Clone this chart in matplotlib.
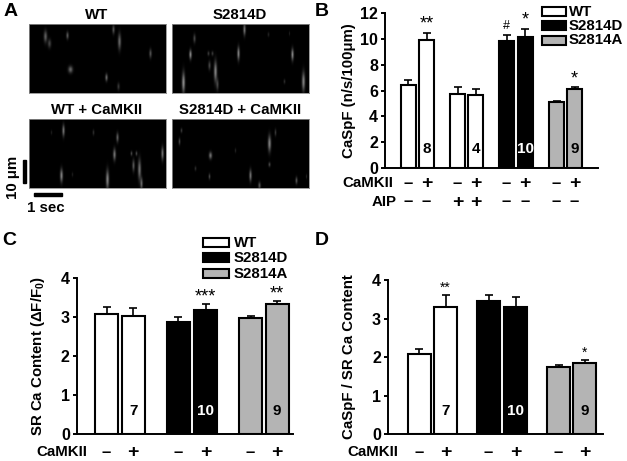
import numpy as np
import matplotlib
matplotlib.use('Agg')
import matplotlib.pyplot as plt
from matplotlib.patches import Rectangle

plt.rcParams['font.family'] = 'Liberation Sans'
plt.rcParams['font.weight'] = 'bold'
plt.rcParams['mathtext.fontset'] = 'custom'
plt.rcParams['mathtext.rm'] = 'Liberation Sans:bold'
plt.rcParams['mathtext.default'] = 'regular'

W, H = 627, 461
WHITE, BLACK, GREY = '#ffffff', '#000000', '#b4b4b4'

# ============================================================
# DATA
# ============================================================
# sparks: x, y, width, height, brightness (image pixels)
sparks_wt = [(16, 12, 1.2, 4, .35), (20, 19, 1.2, 3, .25), (38, 11, .9, 2.5, .32), (84, 5, .9, 3, .3),
             (90, 17, 1.1, 5.5, .38), (121, 29, .9, 3, .3), (41, 45, 1.6, 2.4, .38), (77, 53, .9, 2.5, .38),
             (89, 62, .9, 2.5, .2)]
sparks_d = [(72, 5, .9, 4, .42), (22, 14, .9, 3, .25), (18, 30, .9, 3.2, .5), (36, 29, .8, 1.6, .2),
            (40, 29, .8, 1.6, .2), (66, 29, .9, 4.5, .48), (120, 30, .9, 4, .5), (37, 41, .9, 3, .25),
            (43, 47, 1.1, 7, .48), (45, 60, .9, 4, .25), (11, 58, 1.1, 7, .52), (131, 57, 1.1, 6.5, .48),
            (112, 57, .7, 1.6, .16), (96, 10, .7, 1.6, .12), (117, 9, .5, 1.6, .1)]
sparks_wt_cam = [(34, 11, .9, 4, .42), (64, 13, .7, 2, .16), (88, 18, .9, 3.2, .34), (85, 35, 1, 4, .42),
                 (102, 34, .7, 1.6, .25), (107, 34, .7, 1.6, .25), (133, 34, .9, 4.5, .42), (104, 46, .9, 4, .32),
                 (110, 50, 1.1, 7, .42), (112, 64, .9, 4, .38), (32, 56, 1, 4.5, .48), (78, 60, 1.1, 6.5, .48),
                 (22, 13, .6, 1.6, .1), (43, 55, .6, 1.6, .1)]
sparks_d_cam = [(9, 11, .7, 1.6, .2), (7, 22, .7, 2.4, .25), (97, 24, 1.1, 5.5, .48), (103, 13, .7, 2.4, .2),
                (38, 36, 1.1, 2.4, .42), (63, 31, .6, 1.6, .12), (97, 45, .8, 1.6, .25), (23, 49, .7, 1.6, .16),
                (37, 57, .7, 2, .25), (78, 56, .9, 4, .42), (87, 66, .9, 2.4, .32), (124, 61, .8, 2.4, .3),
                (134, 57, .5, 1.6, .12)]

b_vals = [6.45, 9.9, 5.75, 5.7, 9.85, 10.2, 5.1, 6.1]
b_errs = [.35, .6, .55, .45, .5, .6, .12, .17]
b_cols = [WHITE, WHITE, WHITE, WHITE, BLACK, BLACK, GREY, GREY]
b_cam = ['\u2013', '+', '\u2013', '+', '\u2013', '+', '\u2013', '+']
b_aip = ['\u2013', '\u2013', '+', '+', '\u2013', '\u2013', '\u2013', '\u2013']
b_stars = {1: '**', 4: '#', 5: '*', 7: '*'}
b_n = {1: '8', 3: '4', 5: '10', 7: '9'}

c_vals = [3.06, 3.03, 2.87, 3.18, 2.96, 3.33]
c_errs = [.19, .2, .12, .14, .06, .08]
c_stars = {3: '***', 5: '**'}
c_n = {1: '7', 3: '10', 5: '9'}

d_vals = [2.07, 3.30, 3.45, 3.29, 1.73, 1.84]
d_errs = [.13, .3, .15, .27, .06, .07]
d_stars = {1: '**', 5: '*'}
d_n = {1: '7', 3: '10', 5: '9'}

cols6 = [WHITE, WHITE, BLACK, BLACK, GREY, GREY]
cam6 = ['\u2013', '+', '\u2013', '+', '\u2013', '+']
legend_names = ['WT', 'S2814D', 'S2814A']
legend_cols = [WHITE, BLACK, GREY]

fig = plt.figure(figsize=(W / 100, H / 100), dpi=100)


def px_axes(x0, y0, x1, y1):
    return fig.add_axes([x0 / W, 1 - y1 / H, (x1 - x0) / W, (y1 - y0) / H])


def label(x, y, s, size=10.8, **kw):
    kw.setdefault('ha', 'center')
    kw.setdefault('va', 'center')
    fig.text(x / W, 1 - y / H, s, fontsize=size, fontweight='bold', **kw)


def kymo(x0, y0, title, sparks):
    ax = px_axes(x0, y0, x0 + 137, y0 + 69)
    yy, xx = np.mgrid[0:69, 0:137]
    img = np.zeros((69, 137))
    for sx, sy, w, h, amp in sparks:
        img += amp * np.exp(-((xx - sx) / w) ** 2 / 2 - ((yy - sy) / h) ** 2 / 2)
    ax.imshow(img, cmap='gray', vmin=0, vmax=1, aspect='auto', interpolation='bilinear')
    ax.set_xticks([])
    ax.set_yticks([])
    for s in ax.spines.values():
        s.set_color('#8c8c8c')
        s.set_linewidth(0.6)
    label(x0 + 68, y0 - 9, title)


def bars(box, lefts, bw, vals, errs, cols, ymax, yticks, ylabel, ylab_x, stars, star_off, star_size,
         n_lab, n_y, rows):
    x0, y0, x1, y1 = box
    ax = px_axes(x0, y0, x1, y1)
    centers = [l + bw / 2 for l in lefts]
    ax.bar(centers, vals, bw, color=cols, edgecolor='black', linewidth=1.5, zorder=2)
    ax.errorbar(centers, vals, yerr=[[0] * len(errs), errs], fmt='none', ecolor='black',
                elinewidth=1.2, capsize=2.8, capthick=1.2, zorder=1)
    ax.set_xlim(0, x1 - x0)
    ax.set_ylim(0, ymax)
    ax.set_xticks([])
    ax.set_yticks(yticks)
    ax.tick_params(axis='y', length=3, width=1.4, labelsize=11.5, pad=2)
    for s in ['top', 'right']:
        ax.spines[s].set_visible(False)
    for s in ['left', 'bottom']:
        ax.spines[s].set_linewidth(1.4)
    label(ylab_x, (y0 + y1) / 2, ylabel, rotation=90)
    for i, s in stars.items():
        ax.text(centers[i], vals[i] + errs[i] + star_off, s, ha='center', va='center',
                fontsize=star_size if s != '#' else 9, fontweight='normal', clip_on=False)
    for i, s in n_lab.items():
        ax.text(centers[i], n_y, s, ha='center', va='center', fontsize=11, fontweight='bold',
                color='white' if cols[i] == BLACK else 'black', zorder=3)
    for name, name_x, row_y, signs in rows:
        label(name_x, row_y, name, ha='right')
        for c, s in zip(centers, signs):
            label(x0 + c, row_y, s, size=14 if s == '+' else 12)
    return ax


def legend(x0, x1, ys, text_x, box_h):
    for y, name, col in zip(ys, legend_names, legend_cols):
        fig.add_artist(Rectangle((x0 / W, 1 - (y + box_h / 2) / H), (x1 - x0) / W, box_h / H,
                                 transform=fig.transFigure, facecolor=col, edgecolor='black', linewidth=1.5))
        label(text_x, y, name, ha='left')


# ============================================================
# PANEL A
# ============================================================
kymo(29, 24, 'WT', sparks_wt)
kymo(172, 24, 'S2814D', sparks_d)
kymo(29, 119, 'WT + CaMKII', sparks_wt_cam)
kymo(172, 119, 'S2814D + CaMKII', sparks_d_cam)
fig.add_artist(Rectangle((23.2 / W, 1 - 183 / H), 3 / W, 23 / H, transform=fig.transFigure, color='black'))
fig.add_artist(Rectangle((34 / W, 1 - 195.5 / H), 28 / W, 3 / H, transform=fig.transFigure, color='black'))
label(13, 177, '10 \u03bcm', rotation=90)
label(46, 208, '1 sec')

# ============================================================
# PANELS B, C, D
# ============================================================
bars((385, 13.3, 598, 168), [15.7, 34, 65, 83, 114, 132.5, 164, 182], 15, b_vals, b_errs, b_cols,
     12, range(0, 13, 2), 'CaSpF (n/s/100\u03bcm)', 349, b_stars, .65, 13, b_n, 1.45,
     [('CaMKII', 393, 183, b_cam), ('AIP', 397, 202, b_aip)])
legend(542, 566, [11.5, 26, 40.5], 568.5, 9)

bars((76.7, 277.7, 293, 434), [18.3, 45, 90, 117.5, 162.3, 189], 23, c_vals, c_errs, cols6,
     4, range(0, 5), 'SR Ca Content ($\\Delta$F/F$_0$)', 38, c_stars, .18, 13, c_n, .6,
     [('CaMKII', 87, 452, cam6)])
legend(203, 229, [242.5, 257.5, 273.5], 234, 9)

bars((388, 280, 603, 434), [19.7, 46, 89, 116, 159, 185], 23, d_vals, d_errs, cols6,
     4, range(0, 5), 'CaSpF / SR Ca Content', 349, d_stars, .2, 10, d_n, .6,
     [('CaMKII', 398, 452, cam6)])

for x, y, s in [(11, 12, 'A'), (322, 12, 'B'), (9, 240, 'C'), (322, 240, 'D')]:
    label(x, y, s, size=14)

plt.savefig('out.png', dpi=100)
